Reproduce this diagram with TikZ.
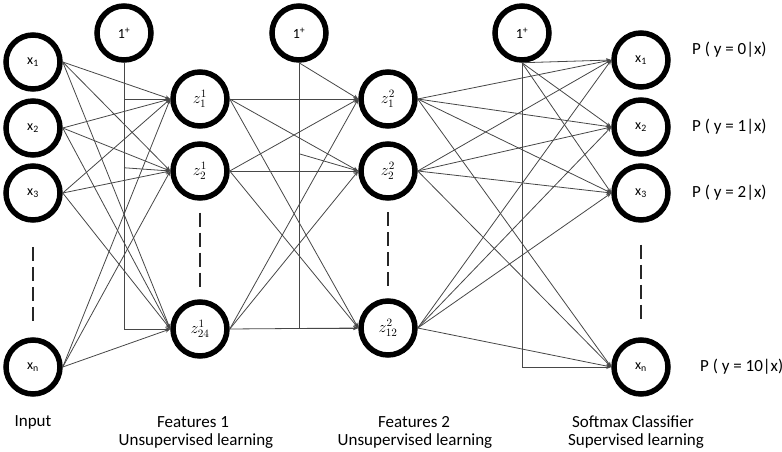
\documentclass[tikz,border=0pt]{standalone}
\usepackage{fix-cm}
\usepackage{fontspec}
\setmainfont{Carlito}
\usetikzlibrary{arrows.meta,calc}
\begin{document}
\begin{tikzpicture}[x=1pt,y=-1pt,
  neuron/.style={circle,draw=black,line width=5.5pt,minimum size=54pt,inner sep=0pt,font=\fontsize{14}{16}\selectfont},
  zfont/.style={font=\fontsize{16}{18}\selectfont},
  conn/.style={draw=black!72,line width=0.8pt,-{Stealth[length=5pt,width=4pt]}},
  dots/.style={draw=black!85,line width=1.8pt,dash pattern=on 14pt off 6pt},
  lbl/.style={font=\fontsize{17}{20}\selectfont,inner sep=0pt}
]
\useasboundingbox (0,0) rectangle (782,452);

% input layer
\node[neuron] (i1) at (33,62) {x\textsubscript{1}};
\node[neuron] (i2) at (33,128) {x\textsubscript{2}};
\node[neuron] (i3) at (33,193) {x\textsubscript{3}};
\node[neuron] (ixn) at (33,367) {x\textsubscript{n}};

% bias units
\node[neuron] (b1) at (124,33) {1\textsuperscript{+}};
\node[neuron] (b2) at (299,33) {1\textsuperscript{+}};
\node[neuron] (b3) at (522,33) {1\textsuperscript{+}};

% features 1
\node[neuron,zfont] (h11) at (200,99) {$z_1^1$};
\node[neuron,zfont] (h12) at (200,171) {$z_2^1$};
\node[neuron,zfont] (h13) at (200,329) {$z_{24}^1$};

% features 2
\node[neuron,zfont] (h21) at (388,99) {$z_1^2$};
\node[neuron,zfont] (h22) at (388,171) {$z_2^2$};
\node[neuron,zfont] (h23) at (388,328) {$z_{12}^2$};

% output
\node[neuron] (o1) at (641,60) {x\textsubscript{1}};
\node[neuron] (o2) at (641,127) {x\textsubscript{2}};
\node[neuron] (o3) at (641,193) {x\textsubscript{3}};
\node[neuron] (oxn) at (641,367) {x\textsubscript{n}};

% dashed continuation marks
\draw[dots] ($(i3.south)!0.21!(ixn.north)$) -- ($(i3.south)!0.87!(ixn.north)$);
\draw[dots] ($(h12.south)!0.12!(h13.north)$) -- ($(h12.south)!0.91!(h13.north)$);
\draw[dots] ($(h22.south)!0.12!(h23.north)$) -- ($(h22.south)!0.91!(h23.north)$);
\draw[dots] ($(o3.south)!0.19!(oxn.north)$) -- ($(o3.south)!0.87!(oxn.north)$);

% input -> features 1
\foreach \s in {i1,i2,i3,ixn}
  \foreach \t in {h11,h12,h13}
    \draw[conn] (\s.east) -- (\t.west);

% bias 1
\draw[conn] (b1.south) |- (h13.west);
\draw[conn] (b1.south |- h11.west) -- (h11.west);
\path (b1.south) ++(0,105) coordinate (b1k);
\draw[conn] (b1k) -- (h12.west);

% features 1 -> features 2
\foreach \s in {h11,h12,h13}
  \foreach \t in {h21,h22,h23}
    \draw[conn] (\s.east) -- (\t.west);

% bias 2
\draw[conn] (b2.south) -- (h21.west);
\draw[conn] (b2.south) |- (h23.west);
\path (b2.south) ++(0,91) coordinate (b2k);
\draw[conn] (b2k) -- (h22.west);

% features 2 -> output
\foreach \s in {h21,h22,h23}
  \foreach \t in {o1,o2,o3,oxn}
    \draw[conn] (\s.east) -- (\t.west);

% bias 3
\foreach \t in {o1,o2,o3}
  \draw[conn] (b3.south) -- (\t.west);
\draw[conn] (b3.south) |- (oxn.west);

% output labels
\node[lbl,anchor=west] (p0) at (692,50) {P ( y = 0|x)};
\node[lbl,anchor=west] (p1) at (692,127) {P ( y = 1|x)};
\node[lbl,anchor=west] (p2) at (692,193) {P ( y = 2|x)};
\node[lbl,anchor=west] (p10) at (700,367) {P ( y = 10|x)};

% bottom labels
\node[lbl] (l0) at (33,422) {Input};
\node[lbl] (l1a) at (193,422) {Features 1};
\node[lbl] (l1b) at (196,441) {Unsupervised learning};
\node[lbl] (l2a) at (414,422) {Features 2};
\node[lbl] (l2b) at (415,441) {Unsupervised learning};
\node[lbl] (l3a) at (633,422) {Softmax Classifier};
\node[lbl] (l3b) at (636,441) {Supervised learning};
\end{tikzpicture}
\end{document}
